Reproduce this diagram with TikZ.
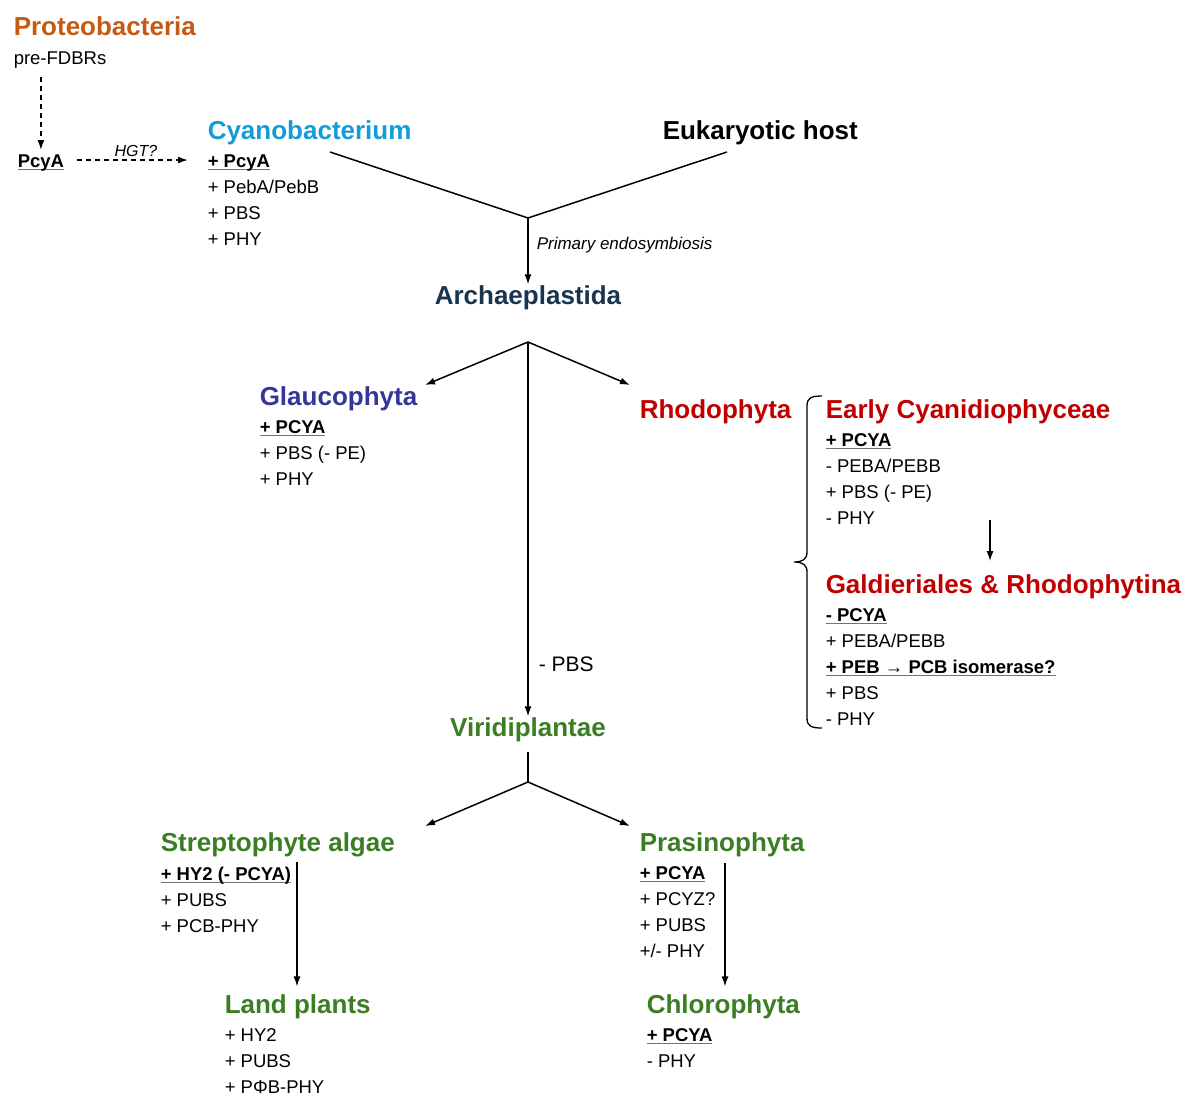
\documentclass[tikz,border=0pt]{standalone}
\usepackage{fontspec}
\setmainfont{Liberation Sans}
\usetikzlibrary{arrows.meta}

\definecolor{proteoc}{HTML}{C55A11}
\definecolor{cyanoc}{HTML}{139CD8}
\definecolor{archc}{HTML}{17354F}
\definecolor{glaucc}{HTML}{35359C}
\definecolor{rhodc}{HTML}{C00000}
\definecolor{greenc}{HTML}{3B7D23}

% bold gene name with a thin rule just under the baseline
\newcommand{\uln}[1]{\leavevmode\setbox0\hbox{\bfseries #1}%
  \rlap{\color{black!55}\rule[-2.6pt]{\wd0}{1pt}}\box0}

\tikzset{
  hd/.style={anchor=base west, inner sep=0pt, font=\fontsize{26}{30}\selectfont\bfseries},
  % lists hang from the cap line of their first entry
  lst/.style={anchor=north west, inner sep=0pt, align=left, font=\fontsize{18.5}{26}\selectfont},
  note/.style={inner sep=0pt, font=\fontsize{17}{20}\selectfont\itshape},
}

\begin{document}
\begin{tikzpicture}[x=1pt, y=-1pt, line width=1.5pt, >={Latex[length=10pt,width=7pt]}]
    \useasboundingbox (0,0) rectangle (1183,1093);

    % where the bacteria come from
    \draw(13,35) node [hd, proteoc](proteo){Proteobacteria};
    \draw(13,51) node [lst](prefdbr){pre-FDBRs};
    \draw(17,154) node [lst](pcya){\uln{PcyA}};
    \draw(207,139) node [hd, cyanoc](cyano){Cyanobacterium};
    \draw(207,154) node [lst](cyanolst){\uln{+ PcyA}\\+ PebA/PebB\\+ PBS\\+ PHY};
    \draw(662,139) node [hd](host){Eukaryotic host};

    \draw[->, dashed, dash pattern=on 5pt off 4pt, shorten <=8pt, shorten >=4pt] (pcya |- prefdbr.south) -- (pcya.north);
    \draw[->, dashed, dash pattern=on 5pt off 4pt, shorten <=12pt, shorten >=19pt] (pcya.east) ++(0,-3) coordinate (hgtstart) -- (hgtstart -| cyano.west)
        node [note, midway, above=3pt, font=\fontsize{16}{20}\selectfont\itshape](hgt){HGT?};

    % endosymbiosis
    \coordinate (cyanoend) at (330,152);
    \coordinate (hostend) at (727,152);
    \coordinate (fuse) at (528,218);
    \draw (cyanoend) -- (fuse) -- (hostend);
    \draw(528,304) node [hd, archc, anchor=base](archae){Archaeplastida};
    \draw[->] (fuse) -- node [note, pos=0.38, anchor=west, xshift=8pt, yshift=-2pt](endo){Primary endosymbiosis} (fuse |- archae.north);

    % first split
    \coordinate (split1) at (528,342);
    \draw(259,405) node [hd, glaucc](glauco){Glaucophyta};
    \draw(259,420) node [lst](glaucolst){\uln{+ PCYA}\\+ PBS (- PE)\\+ PHY};
    \draw(639,418) node [hd, rhodc](rhodo){Rhodophyta};
    \draw(528,736) node [hd, greenc, anchor=base](viridi){Viridiplantae};
    \coordinate (toglauco) at (425,385);
    \coordinate (torhodo) at (630,385);
    \draw[->] (split1) -- (toglauco);
    \draw[->] (split1) -- (torhodo);
    \draw[->] (split1) -- node [pos=0.86, anchor=west, xshift=10pt, inner sep=0pt, font=\fontsize{21}{24}\selectfont](pbs){- PBS} (split1 |- viridi.north);

    % red algae
    \draw(825,418) node [hd, rhodc](early){Early Cyanidiophyceae};
    \draw(825,433) node [lst](earlylst){\uln{+ PCYA}\\- PEBA/PEBB\\+ PBS (- PE)\\- PHY};
    \draw(825,593) node [hd, rhodc](galdi){Galdieriales \& Rhodophytina};
    \draw(825,608) node [lst](galdilst){\uln{- PCYA}\\+ PEBA/PEBB\\\uln{+ PEB → PCB isomerase?}\\+ PBS\\- PHY};
    \coordinate (e2g) at (990,520);
    \draw[->, line width=1.3pt] (e2g) -- (990,561);
    \draw[line width=1.3pt] (822,396) .. controls (811,396) and (807,398) .. (807,406) -- (807,552)
        .. controls (807,559) and (803,562) .. (794,562) .. controls (803,562) and (807,565) .. (807,572)
        -- (807,718) .. controls (807,726) and (811,728) .. (822,728);

    % green lineage
    \coordinate (split2) at (528,782);
    \draw[shorten <=10pt] (viridi.south) -- (split2);
    \draw(160,851) node [hd, greenc](strepto){Streptophyte algae};
    \draw(160,866) node [lst](streptolst){\uln{+ HY2 (- PCYA)}\\+ PUBS\\+ PCB-PHY};
    \draw(224,1013) node [hd, greenc](land){Land plants};
    \draw(224,1028) node [lst](landlst){+ HY2\\+ PUBS\\+ PΦB-PHY};
    \draw(639,851) node [hd, greenc](prasino){Prasinophyta};
    \draw(639,866) node [lst](prasinolst){\uln{+ PCYA}\\+ PCYZ?\\+ PUBS\\+/- PHY};
    \draw(646,1013) node [hd, greenc](chloro){Chlorophyta};
    \draw(646,1028) node [lst](chlorolst){\uln{+ PCYA}\\- PHY};

    \draw[->] (split2) -- (425,826);
    \draw[->] (split2) -- (630,826);
    \coordinate (s2l) at (297,862);
    \draw[->, line width=1.3pt] (s2l) -- (s2l |- land.north) [shorten >=7pt];
    \coordinate (p2c) at (725,863);
    \draw[->, line width=1.3pt] (p2c) -- (p2c |- chloro.north) [shorten >=7pt];
\end{tikzpicture}
\end{document}
